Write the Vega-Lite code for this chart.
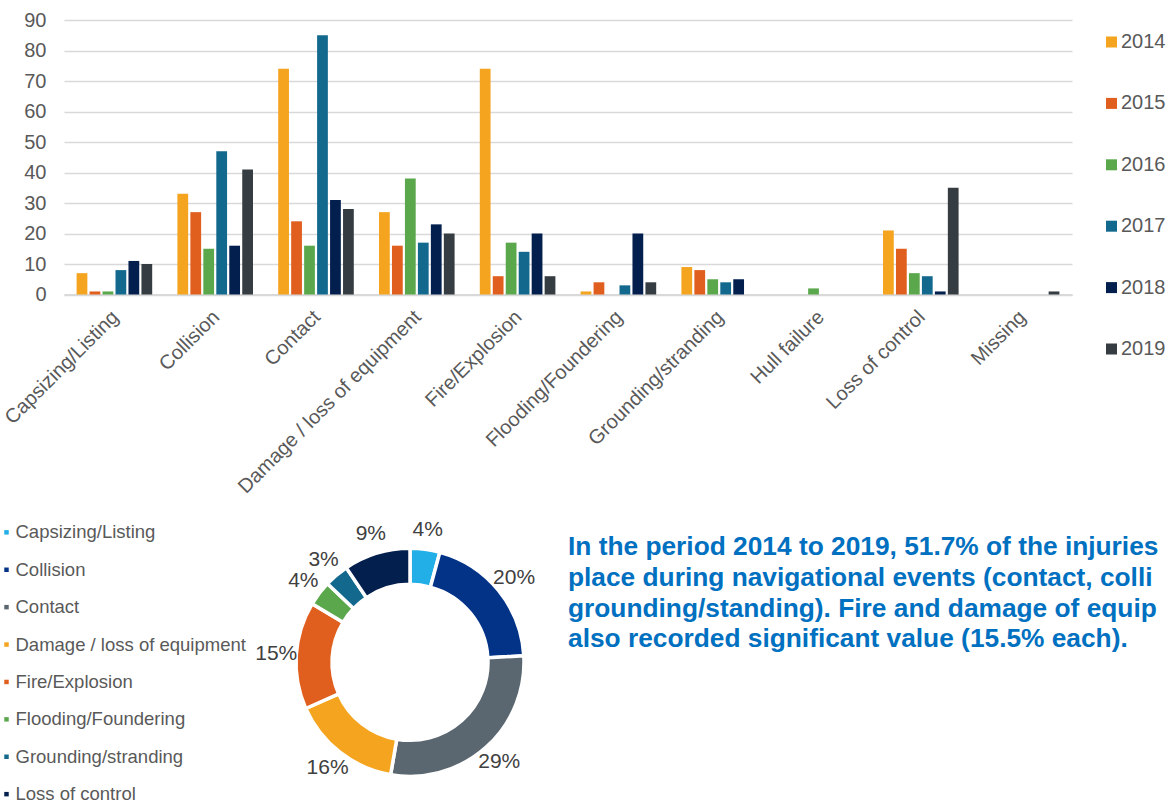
{
  "$schema": "https://vega.github.io/schema/vega-lite/v6.json",
  "padding": {"left": 0, "top": 10, "right": 0, "bottom": 0},
  "config": {"font": "Liberation Sans", "view": {"stroke": null}},
  "datasets": {
    "bars": [
      {"cause": "Capsizing/Listing", "year": "2014", "n": 7},
      {"cause": "Capsizing/Listing", "year": "2015", "n": 1},
      {"cause": "Capsizing/Listing", "year": "2016", "n": 1},
      {"cause": "Capsizing/Listing", "year": "2017", "n": 8},
      {"cause": "Capsizing/Listing", "year": "2018", "n": 11},
      {"cause": "Capsizing/Listing", "year": "2019", "n": 10},
      {"cause": "Collision", "year": "2014", "n": 33},
      {"cause": "Collision", "year": "2015", "n": 27},
      {"cause": "Collision", "year": "2016", "n": 15},
      {"cause": "Collision", "year": "2017", "n": 47},
      {"cause": "Collision", "year": "2018", "n": 16},
      {"cause": "Collision", "year": "2019", "n": 41},
      {"cause": "Contact", "year": "2014", "n": 74},
      {"cause": "Contact", "year": "2015", "n": 24},
      {"cause": "Contact", "year": "2016", "n": 16},
      {"cause": "Contact", "year": "2017", "n": 85},
      {"cause": "Contact", "year": "2018", "n": 31},
      {"cause": "Contact", "year": "2019", "n": 28},
      {"cause": "Damage / loss of equipment", "year": "2014", "n": 27},
      {"cause": "Damage / loss of equipment", "year": "2015", "n": 16},
      {"cause": "Damage / loss of equipment", "year": "2016", "n": 38},
      {"cause": "Damage / loss of equipment", "year": "2017", "n": 17},
      {"cause": "Damage / loss of equipment", "year": "2018", "n": 23},
      {"cause": "Damage / loss of equipment", "year": "2019", "n": 20},
      {"cause": "Fire/Explosion", "year": "2014", "n": 74},
      {"cause": "Fire/Explosion", "year": "2015", "n": 6},
      {"cause": "Fire/Explosion", "year": "2016", "n": 17},
      {"cause": "Fire/Explosion", "year": "2017", "n": 14},
      {"cause": "Fire/Explosion", "year": "2018", "n": 20},
      {"cause": "Fire/Explosion", "year": "2019", "n": 6},
      {"cause": "Flooding/Foundering", "year": "2014", "n": 1},
      {"cause": "Flooding/Foundering", "year": "2015", "n": 4},
      {"cause": "Flooding/Foundering", "year": "2016", "n": 0},
      {"cause": "Flooding/Foundering", "year": "2017", "n": 3},
      {"cause": "Flooding/Foundering", "year": "2018", "n": 20},
      {"cause": "Flooding/Foundering", "year": "2019", "n": 4},
      {"cause": "Grounding/stranding", "year": "2014", "n": 9},
      {"cause": "Grounding/stranding", "year": "2015", "n": 8},
      {"cause": "Grounding/stranding", "year": "2016", "n": 5},
      {"cause": "Grounding/stranding", "year": "2017", "n": 4},
      {"cause": "Grounding/stranding", "year": "2018", "n": 5},
      {"cause": "Grounding/stranding", "year": "2019", "n": 0},
      {"cause": "Hull failure", "year": "2014", "n": 0},
      {"cause": "Hull failure", "year": "2015", "n": 0},
      {"cause": "Hull failure", "year": "2016", "n": 2},
      {"cause": "Hull failure", "year": "2017", "n": 0},
      {"cause": "Hull failure", "year": "2018", "n": 0},
      {"cause": "Hull failure", "year": "2019", "n": 0},
      {"cause": "Loss of control", "year": "2014", "n": 21},
      {"cause": "Loss of control", "year": "2015", "n": 15},
      {"cause": "Loss of control", "year": "2016", "n": 7},
      {"cause": "Loss of control", "year": "2017", "n": 6},
      {"cause": "Loss of control", "year": "2018", "n": 1},
      {"cause": "Loss of control", "year": "2019", "n": 35},
      {"cause": "Missing", "year": "2014", "n": 0},
      {"cause": "Missing", "year": "2015", "n": 0},
      {"cause": "Missing", "year": "2016", "n": 0},
      {"cause": "Missing", "year": "2017", "n": 0},
      {"cause": "Missing", "year": "2018", "n": 0},
      {"cause": "Missing", "year": "2019", "n": 1}
    ],
    "donut": [
      {"idx": 1, "cause": "Capsizing/Listing", "n": 38, "label": "4%"},
      {"idx": 2, "cause": "Collision", "n": 179, "label": "20%"},
      {"idx": 3, "cause": "Contact", "n": 258, "label": "29%"},
      {"idx": 4, "cause": "Damage / loss of equipment", "n": 141, "label": "16%"},
      {"idx": 5, "cause": "Fire/Explosion", "n": 137, "label": "15%"},
      {"idx": 6, "cause": "Flooding/Foundering", "n": 32, "label": "4%"},
      {"idx": 7, "cause": "Grounding/stranding", "n": 31, "label": "3%"},
      {"idx": 8, "cause": "Loss of control", "n": 85, "label": "9%"}
    ],
    "para": [
      {"line": 1, "text": "In the period 2014 to 2019, 51.7% of the injuries took"},
      {"line": 2, "text": "place during navigational events (contact, collision and"},
      {"line": 3, "text": "grounding/standing). Fire and damage of equipment"},
      {"line": 4, "text": "also recorded significant value (15.5% each)."}
    ]
  },
  "bounds": "flush",
  "spacing": 245,
  "resolve": {"scale": {"color": "independent"}},
  "vconcat": [
    {
      "data": {"name": "bars"},
      "width": 1008,
      "height": 274.5,
      "mark": {"type": "bar"},
      "encoding": {
        "x": {
          "field": "cause",
          "type": "nominal",
          "sort": ["Capsizing/Listing", "Collision", "Contact", "Damage / loss of equipment", "Fire/Explosion", "Flooding/Foundering", "Grounding/stranding", "Hull failure", "Loss of control", "Missing"],
          "scale": {"paddingInner": 0.25, "paddingOuter": 0.125},
          "axis": {"title": null, "labelAngle": -45, "labelFontSize": 20, "labelColor": "#595959", "ticks": false, "tickSize": 0, "labelPadding": 12, "labelOffset": -6, "domainColor": "#d9d9d9", "domainWidth": 2, "labelLimit": 400}
        },
        "xOffset": {"field": "year", "type": "nominal", "scale": {"paddingInner": 0.17, "paddingOuter": 0}},
        "y": {
          "field": "n",
          "type": "quantitative",
          "scale": {"domain": [0, 90]},
          "axis": {"title": null, "values": [0, 10, 20, 30, 40, 50, 60, 70, 80, 90], "domain": false, "ticks": false, "tickSize": 0, "labelPadding": 18, "labelFontSize": 20, "labelColor": "#595959", "gridColor": "#d9d9d9", "gridWidth": 1.5}
        },
        "color": {
          "field": "year",
          "type": "nominal",
          "scale": {"domain": ["2014", "2015", "2016", "2017", "2018", "2019"], "range": ["#f4a41f", "#e05e1e", "#5ba84c", "#13698d", "#021f4d", "#363d42"]},
          "legend": {"title": null, "orient": "none", "legendX": 1037.5, "legendY": 12, "symbolType": "square", "symbolSize": 121, "symbolStrokeWidth": 0, "symbolOffset": 0, "labelFontSize": 20, "labelColor": "#595959", "labelOffset": -0.5, "rowPadding": 41.4, "padding": 0}
        }
      }
    },
    {
      "bounds": "flush",
      "align": "none",
      "spacing": -188,
      "hconcat": [
        {
          "width": 692,
          "height": 244.7,
          "data": {"name": "donut"},
          "encoding": {
            "theta": {"field": "n", "type": "quantitative", "stack": true},
            "order": {"field": "idx", "type": "quantitative"}
          },
          "layer": [
            {
              "mark": {"type": "arc", "innerRadius": 78, "outerRadius": 114, "stroke": "white", "strokeWidth": 3.5},
              "encoding": {
                "color": {
                  "field": "cause",
                  "type": "nominal",
                  "scale": {"domain": ["Capsizing/Listing", "Collision", "Contact", "Damage / loss of equipment", "Fire/Explosion", "Flooding/Foundering", "Grounding/stranding", "Loss of control"], "range": ["#22aee6", "#033387", "#5a6770", "#f4a41f", "#e05e1e", "#5ba84c", "#13698d", "#021f4d"]},
                  "legend": {"title": null, "orient": "none", "legendX": -60, "legendY": -16.9, "symbolType": "square", "symbolSize": 20, "symbolStrokeWidth": 0, "symbolOffset": -6.75, "labelFontSize": 18.5, "labelColor": "#595959", "labelOffset": -0.25, "rowPadding": 18.4, "padding": 0, "labelLimit": 400}
                }
              }
            },
            {
              "mark": {"type": "text", "radius": 134, "fontSize": 21, "fill": "#404040"},
              "encoding": {"text": {"field": "label"}}
            }
          ]
        },
        {
          "width": 600,
          "height": 122.8,
          "data": {"name": "para"},
          "mark": {"type": "text", "align": "left", "baseline": "alphabetic", "fontSize": 26.3, "fontWeight": "bold", "fill": "#0070c0", "limit": 605, "ellipsis": " "},
          "encoding": {
            "y": {"field": "line", "type": "ordinal", "scale": {"type": "point", "padding": 0.5}, "axis": null},
            "x": {"datum": 0, "type": "quantitative", "scale": {"domain": [0, 1]}, "axis": null},
            "text": {"field": "text"}
          }
        }
      ]
    }
  ]
}
